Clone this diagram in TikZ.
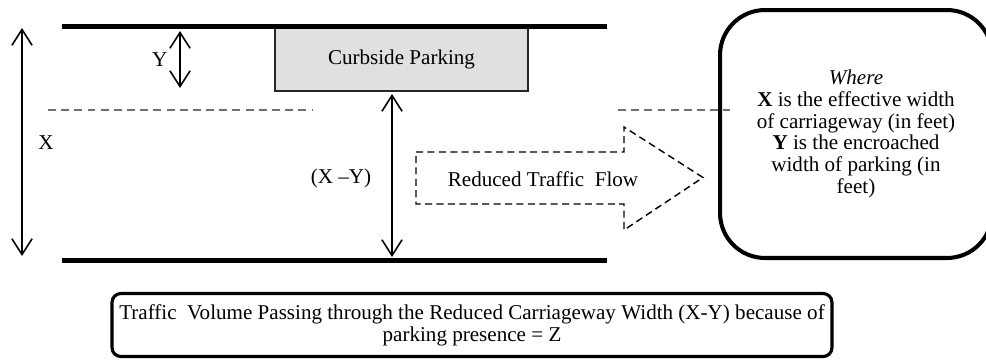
\documentclass[tikz,border=0pt]{standalone}
\usepackage{fontspec}
\setmainfont{Liberation Serif}
\usepackage{tikz}
\usetikzlibrary{arrows.meta, positioning, calc}
\definecolor{ParkGray}{HTML}{E0E0E0}
\definecolor{LaneGray}{HTML}{707070}
\tikzset{
    road/.style={line width=2.8pt, draw=black},
    parkbox/.style={rectangle, draw=black!85, fill=ParkGray, line width=0.8pt, minimum width=5.06cm, minimum height=1.28cm, font=\fontsize{12}{12.6}\selectfont},
    dim/.style={<->, >={Straight Barb[length=9pt,width=11.5pt]}, line width=0.9pt},
    lane/.style={dashed, dash pattern=on 4.5pt off 3pt, draw=LaneGray, line width=0.8pt},
    flowarr/.style={dashed, dash pattern=on 4pt off 2.5pt, line width=0.8pt, line join=miter},
    lbl/.style={font=\fontsize{12}{12.6}\selectfont, inner sep=0pt},
    notebox/.style={rectangle, draw, line width=2.3pt, rounded corners=0.9cm, minimum width=5.44cm, minimum height=4.96cm, align=center, font=\fontsize{12}{12.4}\selectfont},
    resultbox/.style={rectangle, draw, line width=1.8pt, rounded corners=5pt, minimum width=14.4cm, minimum height=1.26cm, align=center, font=\fontsize{12}{12.6}\selectfont},
}

\begin{document}
\begin{tikzpicture}[x=0.02cm, y=-0.02cm]
\useasboundingbox (0,0) rectangle (986,360);
% Parking
\node[parkbox] (park) at (401.5,59) {Curbside Parking};
% Road edges
\draw[road] (62,26.5) -- (607,26.5);
\draw[road] (62,260.5) -- (607,260.5);
% Lane markings
\coordinate (laneA) at (48,110);
\coordinate (laneB) at (312,110);
\coordinate (laneC) at (618,110);
\coordinate (laneD) at (730,110);
\draw[lane] (laneA) -- (laneB);
% Full width X
\coordinate (xtop) at (22,28);
\coordinate (xbot) at (22,256);
\draw[dim] (xtop) -- (xbot);
\node[lbl] (xlab) at (46,143) {X};
% Encroached width Y
\coordinate (ytop) at (180,31);
\coordinate (ybot) at (180,88);
\draw[dim] (ytop) -- (ybot);
\node[lbl, left=7pt of $(ytop)!0.5!(ybot)$] (ylab) {Y};
% Reduced width
\coordinate (xytop) at (392,94);
\coordinate (xybot) at (392,257);
\draw[dim] (xytop) -- (xybot);
\node[lbl] (xylab) at (341,178) {(X~--Y)};
% Flow arrow
\node[lbl] (flow) at (543,179) {Reduced Traffic\ \ Flow};
\draw[flowarr] (416,152) -- (624,152) -- (624,127) -- (703,177.5) -- (624,230) -- (624,204) -- (416,204) -- cycle;
% Notation
\node[notebox] (note) at (856,134) {\textit{Where}\\\textbf{X} is the effective width\\of carriageway (in feet)\\\textbf{Y} is the encroached\\width of parking (in\\feet)};
\draw[lane] (laneC) -- (laneD);
% Result
\node[resultbox] (result) at (472,325) {Traffic\ \ Volume Passing through the Reduced Carriageway Width (X-Y) because of\\parking presence = Z};
\end{tikzpicture}
\end{document}
